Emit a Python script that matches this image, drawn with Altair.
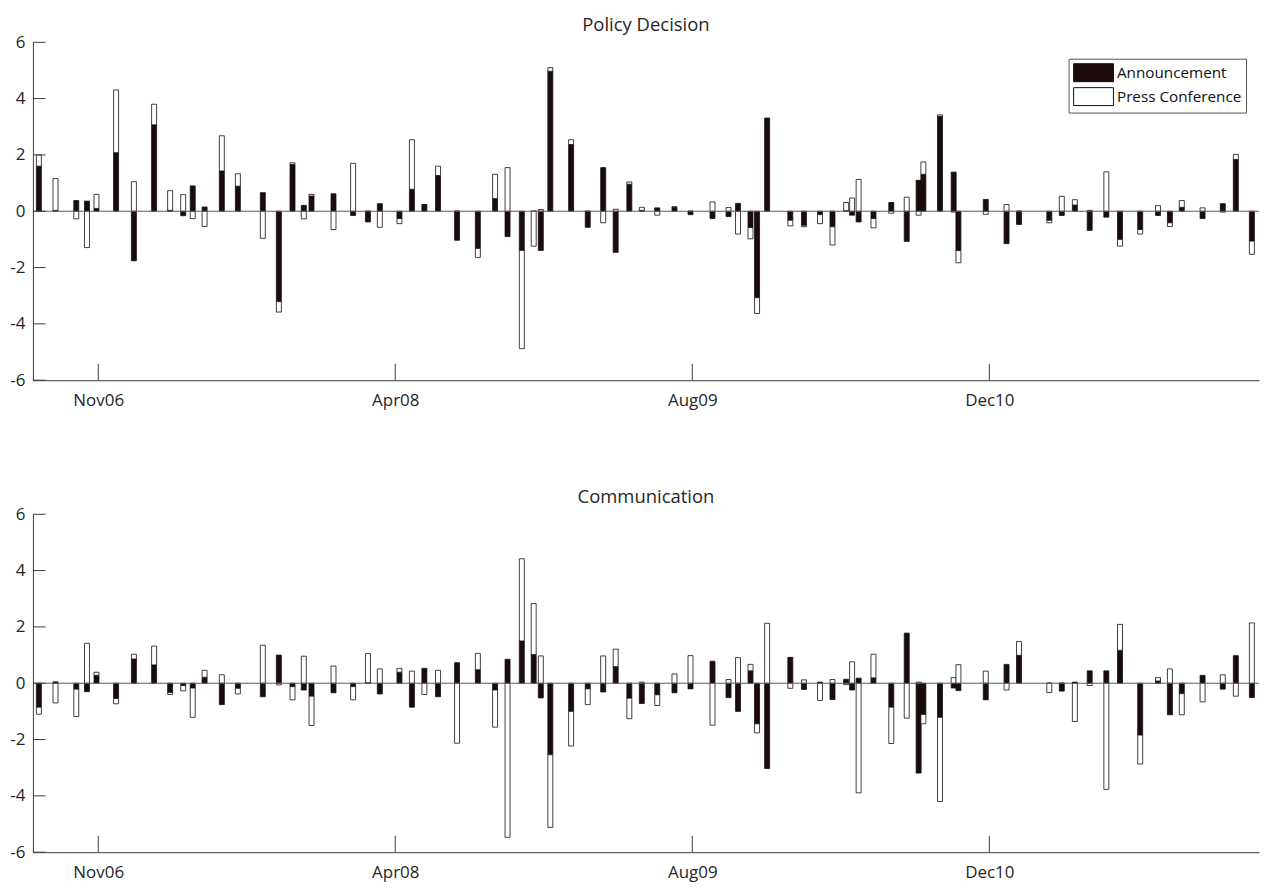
import altair as alt
import pandas as pd

# MATLAB-style datenums of the events (x positions)
DATENUMS = [
    732900, 732928, 732963, 732981, 732997, 733030, 733060, 733094, 733121, 733143,
    733159, 733179, 733208, 733235, 733277, 733304, 733327, 733346, 733359, 733396,
    733429, 733454, 733474, 733507, 733528, 733549, 733572, 733604, 733639, 733668,
    733689, 733713, 733733, 733745, 733761, 733796, 733824, 733850, 733871, 733894,
    733915, 733941, 733970, 733997, 734034, 734061, 734077, 734098, 734109, 734126,
    734165, 734188, 734215, 734236, 734259, 734269, 734280, 734305, 734335, 734361,
    734381, 734389, 734417, 734440, 734448, 734494, 734529, 734550, 734601, 734622,
    734644, 734669, 734697, 734720, 734754, 734784, 734804, 734824, 734859, 734893,
    734915, 734942,
]

PD_ANN = [
    1.60, 0.03, 0.38, 0.36, 0.10, 2.08, -1.76, 3.07, 0.03, -0.16,
    0.90, 0.15, 1.43, 0.89, 0.66, -3.21, 1.66, 0.21, 0.54, 0.62,
    -0.15, -0.38, 0.27, -0.26, 0.78, 0.24, 1.27, -1.03, -1.32, 0.45,
    -0.90, -1.39, 0.00, -1.39, 4.97, 2.37, -0.57, 1.55, -1.46, 0.96,
    0.03, 0.12, 0.14, -0.12, -0.26, -0.19, 0.28, -0.58, -3.07, 3.30,
    -0.32, -0.50, -0.12, -0.55, 0.02, -0.14, -0.38, -0.26, 0.31, -1.07,
    1.10, 1.31, 3.37, 1.39, -1.40, 0.42, -1.15, -0.47, -0.32, -0.15,
    0.22, -0.68, -0.21, -1.00, -0.65, -0.15, -0.41, 0.14, -0.26, 0.27,
    1.84, -1.06,
]
PD_PC = [
    0.40, 1.13, -0.27, -1.29, 0.50, 2.23, 1.05, 0.73, 0.70, 0.59,
    -0.26, -0.54, 1.25, 0.44, -0.96, -0.37, 0.06, -0.27, 0.06, -0.65,
    1.70, 0.00, -0.57, -0.18, 1.76, 0.00, 0.33, 0.00, -0.32, 0.86,
    1.55, -3.49, -1.24, 0.06, 0.13, 0.17, 0.00, -0.41, 0.07, 0.08,
    0.11, -0.14, 0.02, 0.00, 0.33, 0.13, -0.81, -0.40, -0.56, 0.00,
    -0.20, -0.05, -0.32, -0.65, 0.29, 0.47, 1.13, -0.33, -0.07, 0.50,
    -0.14, 0.44, 0.05, -0.03, -0.43, -0.11, 0.24, 0.00, -0.09, 0.53,
    0.19, 0.03, 1.40, -0.24, -0.16, 0.20, -0.13, 0.24, 0.12, -0.03,
    0.18, -0.47,
]
CM_ANN = [
    -0.85, 0.05, -0.21, -0.30, 0.28, -0.54, 0.86, 0.65, -0.33, -0.08,
    -0.17, 0.21, -0.76, -0.18, -0.48, 1.00, -0.12, -0.24, -0.46, -0.34,
    -0.12, 0.02, -0.38, 0.39, -0.85, 0.53, -0.48, 0.73, 0.48, -0.24,
    0.85, 1.50, 1.02, -0.52, -2.54, -1.00, -0.20, -0.31, 0.59, -0.53,
    -0.72, -0.41, -0.34, -0.20, 0.78, -0.51, -1.00, 0.44, -1.44, -3.03,
    0.92, -0.22, 0.04, -0.58, 0.14, -0.24, 0.18, 0.19, -0.85, 1.78,
    -3.19, -1.11, -1.21, -0.17, -0.26, -0.59, 0.67, 0.99, 0.00, -0.28,
    0.04, 0.44, 0.44, 1.17, -1.84, 0.08, -1.12, -0.37, 0.28, -0.21,
    0.98, -0.51,
]
CM_PC = [
    -0.25, -0.70, -0.97, 1.42, 0.11, -0.19, 0.17, 0.67, -0.07, -0.19,
    -1.04, 0.25, 0.30, -0.20, 1.35, -0.06, -0.47, 0.96, -1.04, 0.61,
    -0.47, 1.04, 0.51, 0.14, 0.43, -0.40, 0.46, -2.13, 0.58, -1.32,
    -5.47, 2.92, 1.81, 0.97, -2.58, -1.23, -0.56, 0.97, 0.62, -0.73,
    0.04, -0.38, 0.33, 0.98, -1.49, 0.13, 0.91, 0.23, -0.32, 2.13,
    -0.18, 0.12, -0.61, 0.13, -0.05, 0.76, -3.89, 0.84, -1.29, -1.24,
    0.04, -0.33, -2.99, 0.20, 0.66, 0.43, -0.24, 0.49, -0.33, 0.00,
    -1.36, -0.08, -3.77, 0.92, -1.03, 0.12, 0.51, -0.75, -0.66, 0.30,
    -0.46, 2.14,
]

SERIES = ["Announcement", "Press Conference"]
FILLS = ["#1c0b0b", "#ffffff"]
TITLES = ["Policy Decision", "Communication"]
XLIM = [732890, 734954]
XTICKS = [733000, 733500, 734000, 734500]
YTICKS = [-6, -4, -2, 0, 2, 4, 6]

EPOCH = 719529  # datenum of 1970-01-01
FONT = "Open Sans"
AXC = "#3c3c3c"
TXT = "#262626"
W, H = 1230, 339


def dn_ts(d):
    return pd.Timestamp("1970-01-01") + pd.Timedelta(days=d - EPOCH)


def dn_dt(d):
    t = dn_ts(d)
    return alt.DateTime(year=t.year, month=t.month, date=t.day, utc=True)


def dn_iso(d):
    return dn_ts(d).strftime("%Y-%m-%d")


def panel(title, ann, pc, show_legend):
    rows = []
    for d, a, p in zip(DATENUMS, ann, pc):
        rows.append({"date": dn_iso(d), "series": SERIES[0], "value": a, "k": 0})
        rows.append({"date": dn_iso(d), "series": SERIES[1], "value": p, "k": 1})
    df = pd.DataFrame(rows)

    xscale = alt.Scale(type="utc", domain=[dn_dt(XLIM[0]), dn_dt(XLIM[1])], padding=0)
    yscale = alt.Scale(domain=[-6, 6], nice=False, zero=False, padding=0)
    xaxis = alt.Axis(
        values=[dn_dt(v) for v in XTICKS], format="%b%y", tickSize=0,
        labelPadding=12, labelFont=FONT, labelFontSize=17,
        labelColor=TXT, domainColor=AXC, domainWidth=1, grid=False,
        labelFlush=False, labelOverlap=False, title=None,
    )
    yaxis = alt.Axis(
        values=YTICKS, labelExpr="'' + datum.value", tickSize=0,
        labelPadding=8, labelFont=FONT, labelFontSize=17,
        labelColor=TXT, domainColor=AXC, domainWidth=1, grid=False,
        minExtent=25, maxExtent=25, labelOverlap=False, title=None,
    )

    if show_legend:
        legend = alt.Legend(
            orient="none", legendX=1039, legendY=16.5, title=None,
            symbolType="M-1,-1L3.444,-1L3.444,1L-1,1Z", symbolSize=324,
            symbolStrokeColor="#111111", symbolStrokeWidth=1,
            labelFont=FONT, labelFontSize=15.3, labelColor="#111111",
            labelOffset=25, padding=4.5, strokeColor="#555555",
            fillColor="white", rowPadding=1, labelLimit=400,
        )
    else:
        legend = None

    bars = alt.Chart(df).mark_bar(size=5, stroke="#111111", strokeWidth=0.8).encode(
        x=alt.X("date:T", scale=xscale, axis=xaxis, title=None),
        y=alt.Y("value:Q", stack="zero", scale=yscale, axis=yaxis, title=None),
        fill=alt.Fill("series:N", scale=alt.Scale(domain=SERIES, range=FILLS), legend=legend),
        order=alt.Order("k:Q"),
    )

    zero = alt.Chart(pd.DataFrame({"z": [0]})).mark_rule(color="#5a5a5a", strokeWidth=1).encode(
        y=alt.Y("z:Q", scale=yscale, axis=yaxis, title=None)
    )
    yt = alt.Chart(pd.DataFrame({"t": YTICKS})).mark_rule(color=AXC, strokeWidth=1).encode(
        y=alt.Y("t:Q", scale=yscale, axis=yaxis, title=None),
        x=alt.value(0), x2=alt.value(12.7),
    )
    xt = alt.Chart(pd.DataFrame({"d": [dn_iso(v) for v in XTICKS]})).mark_rule(
        color=AXC, strokeWidth=1
    ).encode(
        x=alt.X("d:T", scale=xscale, axis=xaxis, title=None),
        y=alt.value(H), y2=alt.value(H - 16.5),
    )

    return alt.layer(bars, zero, yt, xt).properties(
        width=W, height=H,
        title=alt.TitleParams(title, font=FONT, fontSize=18.5, fontWeight="normal",
                              color=TXT, offset=-1),
    )


top = panel(TITLES[0], PD_ANN, PD_PC, True)
bot = panel(TITLES[1], CM_ANN, CM_PC, False)

chart = (
    alt.vconcat(top, bot, spacing=79.5)
    .resolve_legend(fill="independent")
    .properties(padding={"left": 0, "top": 6, "right": 0, "bottom": 0})
    .configure_view(stroke=None)
)

chart.save("out.html", embed_options={"renderer": "svg", "actions": False})
